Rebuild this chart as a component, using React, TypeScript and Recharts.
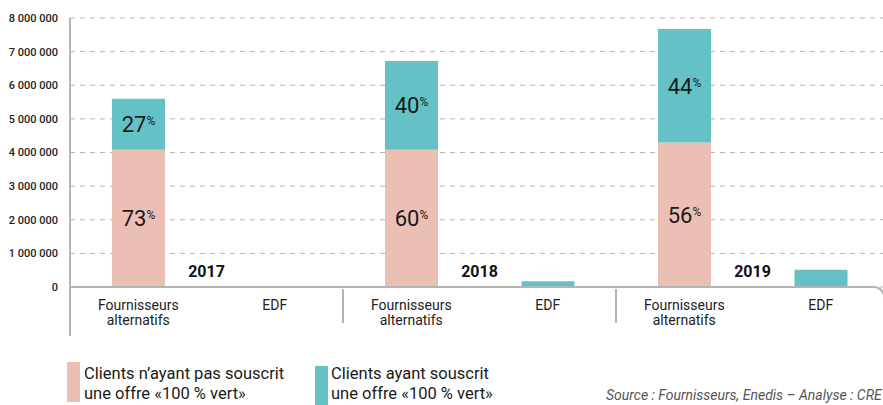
import React from 'react';
import { BarChart, Bar, XAxis, YAxis, CartesianGrid, LabelList } from 'recharts';

// One entry per column: three years, two supplier groups each
const columnKeys = ['F2017', 'EDF2017', 'F2018', 'EDF2018', 'F2019', 'EDF2019'];
const supplierLabels = [
  ['Fournisseurs', 'alternatifs'],
  ['EDF'],
  ['Fournisseurs', 'alternatifs'],
  ['EDF'],
  ['Fournisseurs', 'alternatifs'],
  ['EDF'],
];
const yearLabels = ['2017', '', '2018', '', '2019', ''];

const notGreenClients = [4080000, 0, 4080000, 0, 4300000, 0];
const greenClients = [1520000, 0, 2640000, 170000, 3370000, 510000];
const notGreenPct = [73, null, 60, null, 56, null];
const greenPct = [27, null, 40, null, 44, null];

const yTicks = [0, 1000000, 2000000, 3000000, 4000000, 5000000, 6000000, 7000000, 8000000];

const PINK = '#ECBFB5';
const TEAL = '#64C2C6';
const AXIS_GREY = '#b4b4b4';
const FONT = 'Roboto, "Noto Sans", sans-serif';

const data = columnKeys.map((key, i) => ({
  key,
  notGreen: notGreenClients[i],
  green: greenClients[i],
  notGreenPct: notGreenPct[i],
  greenPct: greenPct[i],
}));

const formatThousands = (v: number) => String(v).replace(/\B(?=(\d{3})+(?!\d))/g, ' ');

const PctLabel = (props: any) => {
  const { x, y, width, height, value } = props;
  if (value == null) return null;
  return (
    <text
      x={x + width / 2}
      y={y + height / 2}
      textAnchor="middle"
      dominantBaseline="central"
      fontFamily={FONT}
      fill="#1a1a1a"
    >
      <tspan fontSize={22}>{value}</tspan>
      <tspan fontSize={12} dy={-3}>%</tspan>
    </text>
  );
};

const CategoryTick = (props: any) => {
  const { x, y, payload, index } = props;
  const half = payload && payload.offset ? payload.offset : 68.25;
  const lines = supplierLabels[index] || [];
  const left = x - half;
  return (
    <g>
      {index === 0 && (
        <>
          {/* baseline with rounded end on the right, and axis going down */}
          <path
            d={`M ${left} ${y} H ${left + 12 * half - 15} A 10 10 0 0 1 ${left + 12 * half - 5} ${y + 10}`}
            stroke={AXIS_GREY}
            strokeWidth={2}
            fill="none"
          />
          <line x1={left} x2={left} y1={y} y2={y + 49} stroke={AXIS_GREY} strokeWidth={2} />
        </>
      )}
      {index % 2 === 1 && index < 5 && (
        <line x1={x + half} x2={x + half} y1={y + 2} y2={y + 36} stroke={AXIS_GREY} strokeWidth={2} />
      )}
      {yearLabels[index] && (
        <text x={x + half} y={y - 10} textAnchor="middle" fontFamily={FONT} fontWeight={700} fontSize={16} fill="#111">
          {yearLabels[index]}
        </text>
      )}
      {lines.map((line, i) => (
        <text key={i} x={x} y={y + 23 + i * 15} textAnchor="middle" fontFamily={FONT} fontSize={14} fill="#222">
          {line}
        </text>
      ))}
    </g>
  );
};

const legendItems = [
  { color: PINK, lines: ['Clients n’ayant pas souscrit', 'une offre «100 % vert»'], left: 67, top: 362, textLeft: 84 },
  { color: TEAL, lines: ['Clients ayant souscrit', 'une offre «100 % vert»'], left: 315, top: 366, textLeft: 331 },
];

const App: React.FC = () => {
  return (
    <div
      style={{
        position: 'absolute',
        left: 0,
        top: 0,
        width: 883,
        height: 405,
        overflow: 'hidden',
        background: '#fff',
        fontFamily: FONT,
      }}
    >
      <BarChart width={889} height={340} data={data} margin={{ top: 18, right: 0, bottom: 0, left: 0 }} barSize={53}>
        <CartesianGrid vertical={false} stroke={AXIS_GREY} strokeDasharray="5 5" />
        <YAxis
          width={70}
          domain={[0, 8000000]}
          ticks={yTicks}
          tickFormatter={formatThousands}
          tickLine={false}
          tickSize={0}
          tickMargin={12}
          axisLine={{ stroke: AXIS_GREY, strokeWidth: 2 }}
          tick={{ fontSize: 11, fontWeight: 500, fill: '#222', fontFamily: FONT }}
        />
        <XAxis
          dataKey="key"
          height={53}
          axisLine={false}
          tickLine={false}
          tickSize={0}
          tickMargin={0}
          interval={0}
          tick={<CategoryTick />}
        />
        <Bar dataKey="notGreen" stackId="a" fill={PINK} isAnimationActive={false}>
          <LabelList dataKey="notGreenPct" content={<PctLabel />} />
        </Bar>
        <Bar dataKey="green" stackId="a" fill={TEAL} isAnimationActive={false}>
          <LabelList dataKey="greenPct" content={<PctLabel />} />
        </Bar>
      </BarChart>

      {/* Legend */}
      {legendItems.map((item, i) => (
        <div key={i}>
          <div
            style={{
              position: 'absolute',
              left: item.left,
              top: item.top,
              width: 13,
              height: 40,
              background: item.color,
            }}
          />
          <div
            style={{
              position: 'absolute',
              left: item.textLeft,
              top: 364,
              fontSize: 16.5,
              lineHeight: '20px',
              color: '#1a1a1a',
              whiteSpace: 'nowrap',
            }}
          >
            {item.lines.map((l, j) => (
              <div key={j}>{l}</div>
            ))}
          </div>
        </div>
      ))}

      <div
        style={{
          position: 'absolute',
          left: 606,
          top: 387,
          fontSize: 14,
          lineHeight: '16px',
          fontStyle: 'italic',
          color: '#555',
          whiteSpace: 'nowrap',
        }}
      >
        Source : Fournisseurs, Enedis – Analyse : CRE
      </div>
    </div>
  );
};

export default App;
